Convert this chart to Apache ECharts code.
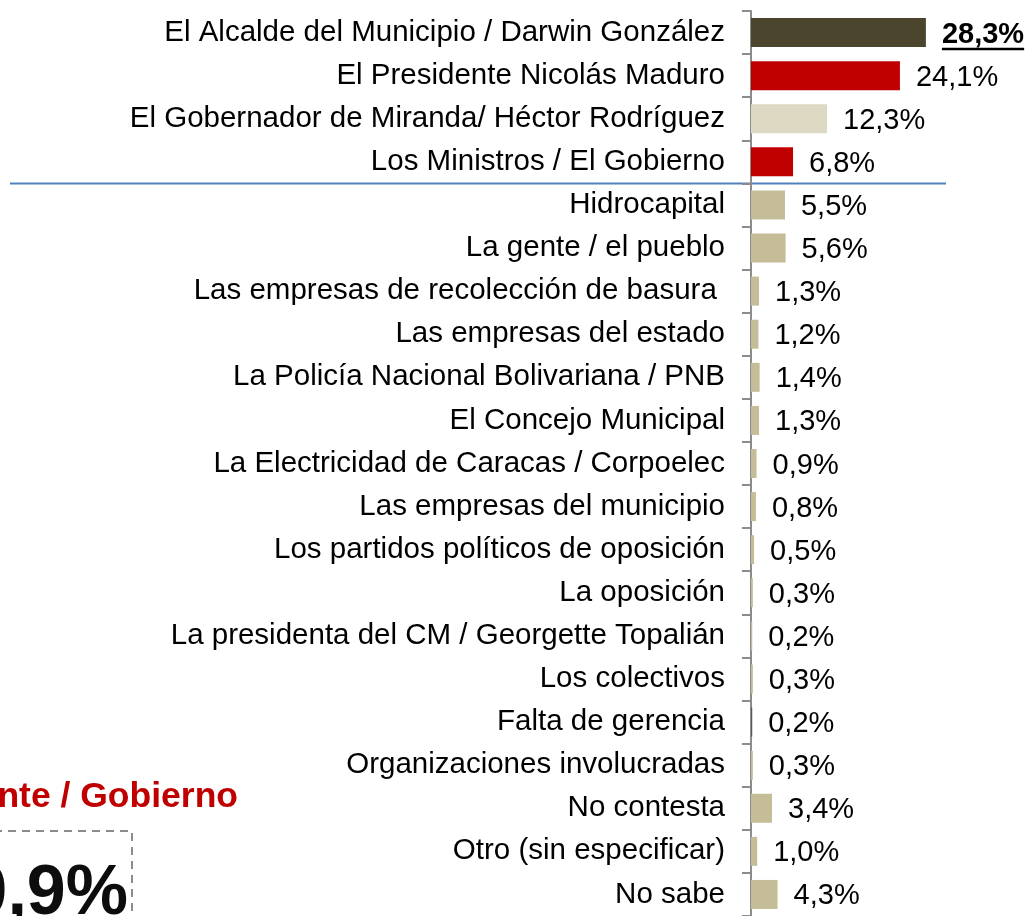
<!DOCTYPE html>
<html lang="es">
<head>
    <meta charset="UTF-8">
    <title>Responsables</title>
    <style>
        html, body { margin: 0; padding: 0; background: #fff; }
        #chart-container { width: 1028px; height: 916px; overflow: hidden; }
    </style>
</head>
<body>
    <div id="chart-container"></div>
    <script src="https://cdn.jsdelivr.net/npm/echarts@6/dist/echarts.min.js"></script>
    <script>
        // categories top to bottom
        const categories = [
            'El Alcalde del Municipio / Darwin González',
            'El Presidente Nicolás Maduro',
            'El Gobernador de Miranda/ Héctor Rodríguez',
            'Los Ministros / El Gobierno',
            'Hidrocapital',
            'La gente / el pueblo',
            'Las empresas de recolección de basura ',
            'Las empresas del estado',
            'La Policía Nacional Bolivariana / PNB',
            'El Concejo Municipal',
            'La Electricidad de Caracas / Corpoelec',
            'Las empresas del municipio',
            'Los partidos políticos de oposición',
            'La oposición',
            'La presidenta del CM / Georgette Topalián',
            'Los colectivos',
            'Falta de gerencia',
            'Organizaciones involucradas',
            'No contesta',
            'Otro (sin especificar)',
            'No sabe'
        ];
        const values = [28.3, 24.1, 12.3, 6.8, 5.5, 5.6, 1.3, 1.2, 1.4, 1.3, 0.9, 0.8, 0.5, 0.3, 0.2, 0.3, 0.2, 0.3, 3.4, 1.0, 4.3];
        const summaryTitle = 'Presidente / Gobierno';
        const summaryValue = '30,9%';

        // colours per row (default tan)
        const barColors = { 0: '#4B452D', 1: '#C00000', 2: '#DDD9C3', 3: '#C00000', 16: '#595959' };
        const defaultColor = '#C4BD97';

        const fmt = v => v.toFixed(1).replace('.', ',') + '%';
        const FONT = '"Liberation Sans", Arial, sans-serif';
        const LABEL_GAP = 16;

        var dom = document.getElementById('chart-container');
        var myChart = echarts.init(dom, null, { renderer: 'canvas' });

        var option = {
            animation: false,
            grid: { left: 751, top: 11, width: 185.4, height: 909.3 },
            xAxis: { type: 'value', min: 0, max: 30, show: false },
            yAxis: {
                type: 'category',
                inverse: true,
                data: categories,
                axisLine: { show: true, lineStyle: { color: '#8C8C8C', width: 2 } },
                axisTick: { show: true, alignWithLabel: false, length: 9, lineStyle: { color: '#8C8C8C', width: 2 } },
                axisLabel: {
                    margin: 26,
                    color: '#000',
                    fontSize: 29.5,
                    fontFamily: FONT,
                    padding: [4, 0, 0, 0]
                }
            },
            series: [{
                type: 'bar',
                barWidth: 29,
                data: values,
                itemStyle: {
                    color: p => barColors[p.dataIndex] || defaultColor
                },
                label: {
                    show: true,
                    position: 'right',
                    distance: LABEL_GAP,
                    offset: [0, 2],
                    color: '#000',
                    fontSize: 29,
                    fontFamily: FONT,
                    formatter: p => p.dataIndex === 0 ? '{b|' + fmt(p.value) + '}' : fmt(p.value),
                    rich: {
                        b: {
                            fontSize: 29,
                            fontWeight: 'bold',
                            fontFamily: FONT,
                            color: '#000'
                        }
                    }
                }
            }],
            graphic: [
                {
                    type: 'line',
                    shape: { x1: 10, y1: 183.5, x2: 946, y2: 183.5 },
                    style: { stroke: '#4F81BD', lineWidth: 2 }
                },
                {
                    type: 'text',
                    x: 238, y: 797,
                    style: {
                        text: summaryTitle,
                        align: 'right',
                        verticalAlign: 'middle',
                        fill: '#C00000',
                        font: 'bold 35.5px ' + FONT
                    }
                },
                {
                    type: 'rect',
                    shape: { x: -20, y: 831, width: 152, height: 120 },
                    style: { fill: 'none', stroke: '#8C8C8C', lineWidth: 2, lineDash: [8, 6] }
                },
                {
                    type: 'text',
                    x: 128, y: 860,
                    style: {
                        text: summaryValue,
                        align: 'right',
                        verticalAlign: 'top',
                        fill: '#0D0D0D',
                        font: 'bold 70px ' + FONT
                    }
                }
            ]
        };

        myChart.setOption(option);

        // underline under the top value label, placed from the scale
        const topPt = myChart.convertToPixel({ seriesIndex: 0 }, [values[0], 0]);
        const topTxtW = echarts.format.getTextRect
            ? echarts.format.getTextRect(fmt(values[0]), 'bold 29px ' + FONT).width
            : 82;
        const ux = topPt[0] + LABEL_GAP;
        myChart.setOption({
            graphic: [{
                id: 'underline',
                type: 'line',
                shape: { x1: ux, y1: topPt[1] + 16.5, x2: ux + topTxtW, y2: topPt[1] + 16.5 },
                style: { stroke: '#000', lineWidth: 2.5 }
            }]
        });

        window.addEventListener('resize', myChart.resize);
    </script>
</body>
</html>
